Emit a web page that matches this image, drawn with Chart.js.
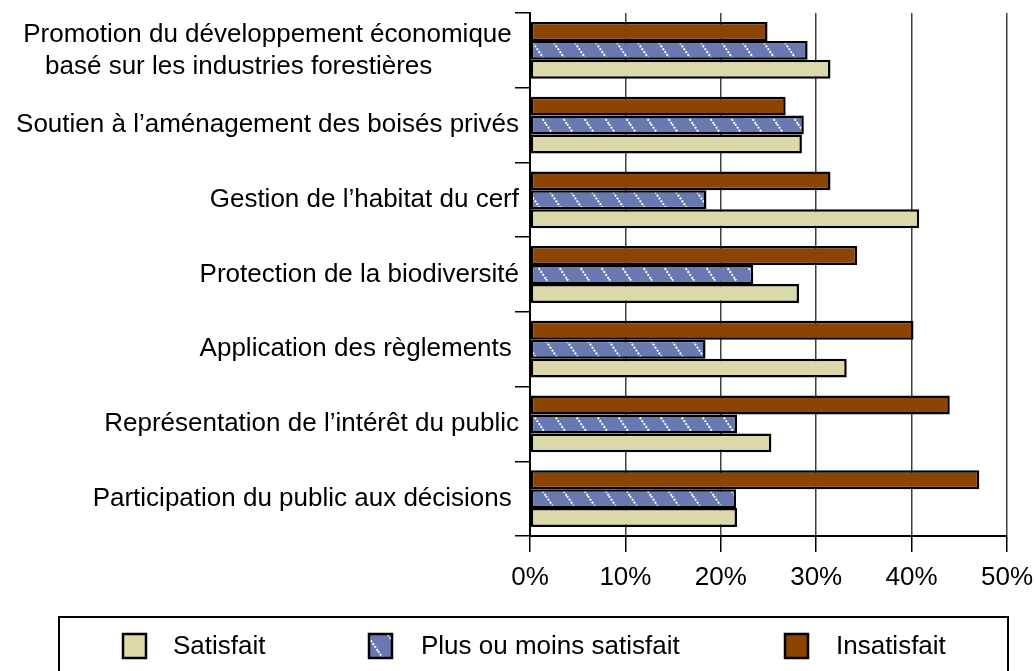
<!DOCTYPE html>
<html lang="fr">
<head>
<meta charset="utf-8">
<title>Satisfaction</title>
<script src="https://cdn.jsdelivr.net/npm/chart.js@4.4.1/dist/chart.umd.min.js"></script>
<style>
  html, body { margin: 0; padding: 0; background: #fff; }
  #wrap { position: relative; width: 1036px; height: 671px; }
</style>
</head>
<body>
<div id="wrap"><canvas id="myChart"></canvas></div>
<script>
// categories, top to bottom
const categories = [
    ['Promotion du développement économique ', 'basé sur les industries forestières            '],
    'Soutien à l’aménagement des boisés privés',
    'Gestion de l’habitat du cerf',
    'Protection de la biodiversité',
    'Application des règlements ',
    'Représentation de l’intérêt du public',
    'Participation du public aux décisions '
];
const seriesNames = ['Insatisfait', 'Plus ou moins satisfait', 'Satisfait'];
const insatisfait = [24.9, 26.8, 31.5, 34.3, 40.2, 44.0, 47.1];
const plusOuMoins = [29.1, 28.7, 18.5, 23.4, 18.4, 21.7, 21.6];
const satisfait   = [31.5, 28.5, 40.8, 28.2, 33.2, 25.3, 21.7];
const xMin = 0, xMax = 50, xStep = 10;

const FONT = "'Liberation Sans', Arial, sans-serif";
const BROWN = '#8b4500';
const BLUE = '#6878b0';
const BEIGE = '#dbd9aa';

function hatchPattern() {
    const c = document.createElement('canvas');
    c.width = 21;
    c.height = 31;
    const g = c.getContext('2d');
    g.fillStyle = BLUE;
    g.fillRect(0, 0, c.width, c.height);
    g.strokeStyle = '#ffffff';
    g.lineWidth = 2;
    g.setLineDash([2, 1.5]);
    [-21, 0, 21].forEach(function (dx) {
        g.beginPath();
        g.moveTo(dx, 0);
        g.lineTo(dx + 21, 31);
        g.stroke();
    });
    return g.createPattern(c, 'repeat');
}
const hatch = hatchPattern();

// boxed legend under the chart, in the reference order
const boxLegend = {
    id: 'boxLegend',
    afterDraw(chart) {
        const ctx = chart.ctx;
        ctx.save();
        ctx.strokeStyle = '#000';
        ctx.lineWidth = 2;
        ctx.strokeRect(59, 617, 949, 80);
        const swatchX = [122, 368, 784];
        const textX = [173, 421, 836];
        const order = chart.data.datasets.slice().reverse();
        ctx.font = '26px ' + FONT;
        ctx.textBaseline = 'middle';
        ctx.textAlign = 'left';
        order.forEach(function (ds, i) {
            ctx.fillStyle = ds.backgroundColor;
            ctx.fillRect(swatchX[i], 633, 25, 26);
            ctx.lineWidth = 2.5;
            ctx.strokeStyle = '#000';
            ctx.strokeRect(swatchX[i] + 1, 634, 23, 24);
            ctx.fillStyle = '#000';
            ctx.fillText(ds.label, textX[i], 647);
        });
        ctx.restore();
    }
};

const ctx = document.getElementById('myChart').getContext('2d');
const myChart = new Chart(ctx, {
    type: 'bar',
    data: {
        labels: categories,
        datasets: [
            { label: seriesNames[0], data: insatisfait, backgroundColor: BROWN },
            { label: seriesNames[1], data: plusOuMoins, backgroundColor: hatch },
            { label: seriesNames[2], data: satisfait, backgroundColor: BEIGE }
        ]
    },
    options: {
        indexAxis: 'y',
        responsive: true,
        maintainAspectRatio: false,
        animation: false,
        datasets: {
            bar: {
                borderColor: '#000',
                borderWidth: 2.5,
                borderSkipped: false,
                categoryPercentage: 0.76,
                barPercentage: 1.0
            }
        },
        layout: { padding: { top: 13, right: 29, left: 0, bottom: 0 } },
        plugins: {
            legend: { display: false },
            tooltip: { enabled: false }
        },
        scales: {
            x: {
                min: xMin,
                max: xMax,
                afterFit(scale) {
                    scale.height = 135;
                    scale.paddingLeft = 0;
                    scale.paddingRight = 0;
                },
                ticks: {
                    stepSize: xStep,
                    color: '#000',
                    padding: 10,
                    font: { family: FONT, size: 26 },
                    callback: function (v) { return v + '%'; }
                },
                grid: {
                    color: '#404040',
                    lineWidth: 1.5,
                    tickLength: 16,
                    tickColor: '#000',
                    tickWidth: 1.5
                },
                border: { display: true, color: '#000', width: 2 }
            },
            y: {
                afterFit(scale) { scale.width = 530; },
                ticks: {
                    color: '#000',
                    padding: -4,
                    font: { family: FONT, size: 26, lineHeight: 1.23 }
                },
                grid: {
                    offset: true,
                    drawOnChartArea: false,
                    tickLength: 15,
                    color: '#000',
                    lineWidth: 1.5
                },
                border: { display: true, color: '#000', width: 2 }
            }
        }
    },
    plugins: [boxLegend]
});
</script>
</body>
</html>
